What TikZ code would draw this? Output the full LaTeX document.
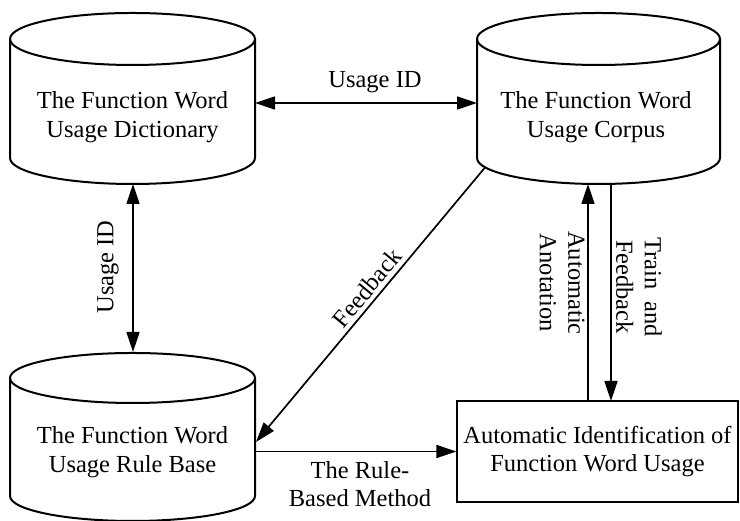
\documentclass[tikz,border=0pt]{standalone}
\usepackage{fontspec}
\setmainfont{Liberation Serif}
\usetikzlibrary{arrows.meta}
\newcommand\cylshape[5]{%
  \draw[cylline] ({#1-#4},#2) -- ({#1-#4},#3)
    arc[start angle=180,end angle=360,x radius=#4pt,y radius=#5pt] -- ({#1+#4},#2);
  \draw[cylline] (#1,#2) ellipse[x radius=#4pt,y radius=#5pt];
}
\begin{document}
\begin{tikzpicture}[x=1pt,y=1pt,
  cylline/.style={line width=2pt},
  lbl/.style={align=center,font=\fontsize{24.5}{28.5}\selectfont,inner sep=2pt},
  conn/.style={line width=1.7pt,-{Triangle[length=20pt,width=13pt]}},
  dconn/.style={line width=1.7pt,{Triangle[length=20pt,width=13pt]}-{Triangle[length=20pt,width=13pt]}},
  boxst/.style={draw,line width=1.3pt,minimum width=281pt,minimum height=101pt,inner sep=0pt}]
\useasboundingbox (0,0) rectangle (740,521);
% cylinders
\cylshape{132.5}{482}{363}{122.5}{26}
\cylshape{598.5}{482}{363}{121.5}{26}
\cylshape{132.5}{143}{25}{122.5}{25}
% nodes
\node[lbl] (dict) at (132.5,404) {The Function Word\\Usage Dictionary};
\node[lbl] (corp) at (596,404) {The Function Word\\Usage Corpus};
\node[lbl] (rule) at (132.5,69) {The Function Word\\Usage Rule Base};
\node[lbl,boxst] (auto) at (597.5,69.5) {Automatic Identification of\\Function Word Usage};
% connection points
\coordinate (dictE) at (255,418);
\coordinate (corpW) at (477,418);
\coordinate (dictS) at (133,337);
\coordinate (ruleN) at (133,169);
\coordinate (corpBL) at (485,353.5);
\coordinate (ruleE) at (256,79);
\coordinate (ruleR) at (255,69.5);
\coordinate (annoTop) at (588,337);
\coordinate (annoBot) at (588,120);
\coordinate (trainTop) at (611,337);
\coordinate (trainBot) at (611,120);
% connectors
\draw[dconn] (dictE) -- (corpW);
\node[lbl] (lab1) at (375,439) {Usage ID};
\draw[dconn] (dictS) -- (ruleN);
\node[lbl,rotate=90] (lab2) at (108,254) {Usage ID};
\draw[line width=1.7pt,{Triangle[length=20pt,width=13pt]}-] (ruleE) -- (corpBL)
  node[lbl,pos=0.53,sloped,above,inner sep=4pt] (lab3) {Feedback};
\draw[conn] (ruleR) -- (auto.west);
\node[lbl] (lab4) at (360,37) {The Rule-\\Based Method};
\draw[conn] (annoBot) -- (annoTop);
\node[lbl,rotate=-90] (lab5) at (562,238) {Automatic\\Anotation};
\draw[conn] (trainTop) -- (trainBot);
\node[lbl,rotate=-90] (lab6) at (639,234) {Train\enspace and\\Feedback};
\end{tikzpicture}
\end{document}
